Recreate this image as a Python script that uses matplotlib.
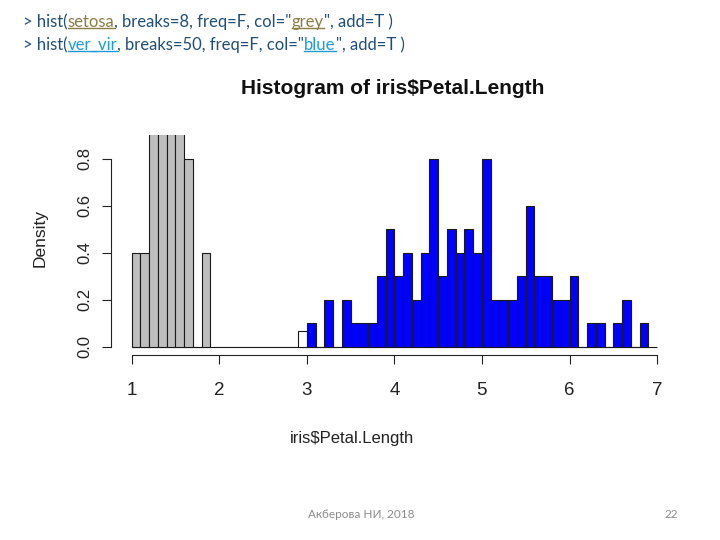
import numpy as np
import matplotlib
matplotlib.use("Agg")
import matplotlib.pyplot as plt

# histogram data (density per 0.1 bin)
setosa_left = [1.0, 1.1, 1.2, 1.3, 1.4, 1.5, 1.6, 1.7, 1.8]
setosa_density = [0.4, 0.4, 1.4, 2.6, 2.6, 1.4, 0.8, 0.0, 0.4]

vervir_left = np.round(np.arange(3.0, 6.85, 0.1), 1)
vervir_density = [0.1, 0.0, 0.2, 0.0, 0.2, 0.1, 0.1, 0.1, 0.3, 0.5,
                  0.3, 0.4, 0.2, 0.4, 0.8, 0.3, 0.5, 0.4, 0.5, 0.4,
                  0.8, 0.2, 0.2, 0.2, 0.3, 0.6, 0.3, 0.3, 0.2, 0.2,
                  0.3, 0.0, 0.1, 0.1, 0.0, 0.1, 0.2, 0.0, 0.1]

# leftover of the first (white) histogram that is still visible
white_left = [2.9]
white_density = [0.0667]
base_range = [1.0, 7.0]

x_ticks = [1, 2, 3, 4, 5, 6, 7]
y_ticks = [0.0, 0.2, 0.4, 0.6, 0.8]

code_lines = [
    [("> hist(", None), ("setosa", "olive"), (", breaks=8, freq=F, col=\"", None),
     ("grey", "olive"), ("\", add=T )", None)],
    [("> hist(", None), ("ver_vir", "cyan"), (", breaks=50, freq=F, col=\"", None),
     ("blue", "cyan"), ("\", add=T )", None)],
]

W, H = 720, 540
fig = plt.figure(figsize=(7.2, 5.4), dpi=100)
fig.patch.set_facecolor("white")

sans = ["Liberation Sans", "DejaVu Sans"]
edge = "#1a1a1a"

ax = fig.add_axes([111 / W, 1 - 355 / H, (669 - 111) / W, (355 - 135) / H])
ax.set_xlim(0.764, 7.136)
ax.set_ylim(-0.0347, 0.9013)

ax.hlines(0, base_range[0], base_range[1], color=edge, lw=0.8, zorder=1)
ax.bar(white_left, white_density, width=0.1, align="edge", color="white",
       edgecolor=edge, linewidth=0.8, zorder=2)
ax.bar(setosa_left, setosa_density, width=0.1, align="edge", color="#bebebe",
       edgecolor=edge, linewidth=0.8, zorder=3)
ax.bar(vervir_left, vervir_density, width=0.1, align="edge", color="#0000ff",
       edgecolor=edge, linewidth=0.8, zorder=3)

for s in ["top", "right"]:
    ax.spines[s].set_visible(False)
ax.spines["left"].set_bounds(0, 0.8)
ax.spines["bottom"].set_bounds(1, 7)
for s in ["left", "bottom"]:
    ax.spines[s].set_linewidth(0.8)
    ax.spines[s].set_color("#222222")

ax.set_xticks(x_ticks)
ax.set_xticklabels([str(v) for v in x_ticks], family=sans, fontsize=13.5)
ax.set_yticks(y_ticks)
ax.set_yticklabels(["%.1f" % v for v in y_ticks], family=sans, fontsize=12,
                   rotation=90, va="center")
ax.tick_params(axis="x", length=6.5, width=0.8, pad=13, colors="#222222")
ax.tick_params(axis="y", length=6.5, width=0.8, pad=7, colors="#222222")

fig.text(393 / W, 1 - 88 / H, "Histogram of iris$Petal.Length", family=sans,
         fontweight="bold", fontsize=15, ha="center", va="center", color="#111111")
fig.text(352 / W, 1 - 438 / H, "iris$Petal.Length", family=sans, fontsize=12,
         ha="center", va="center", color="#222222")
fig.text(40 / W, 1 - 238 / H, "Density", family=sans, fontsize=12.5,
         rotation=90, ha="center", va="center", color="#222222")

# slide text: code lines with coloured, underlined words
colors = {None: "#1f4e79", "olive": "#8c7d45", "cyan": "#1e9ad6"}
code_font = ["Lato", "Open Sans", "DejaVu Sans"]
fig.canvas.draw()
renderer = fig.canvas.get_renderer()
line_y = [22, 45]
for segs, yc in zip(code_lines, line_y):
    x = 23
    for txt, key in segs:
        t = fig.text(x / W, 1 - yc / H, txt, family=code_font, fontsize=12,
                     color=colors[key], ha="left", va="center")
        bb = t.get_window_extent(renderer)
        if key is not None:
            uy = bb.y0 + 2
            fig.add_artist(plt.Line2D([bb.x0 / W, bb.x1 / W], [uy / H, uy / H],
                                      color=colors[key], lw=1.0))
        x += bb.width

fig.text(308 / W, 1 - 515 / H, "Акберова НИ, 2018", family=code_font,
         fontsize=8.5, color="#8c8c8c", ha="left", va="center")
fig.text(671 / W, 1 - 515 / H, "22", family=code_font, fontsize=8.5,
         color="#8c8c8c", ha="center", va="center")

fig.savefig("out.png", dpi=100)
